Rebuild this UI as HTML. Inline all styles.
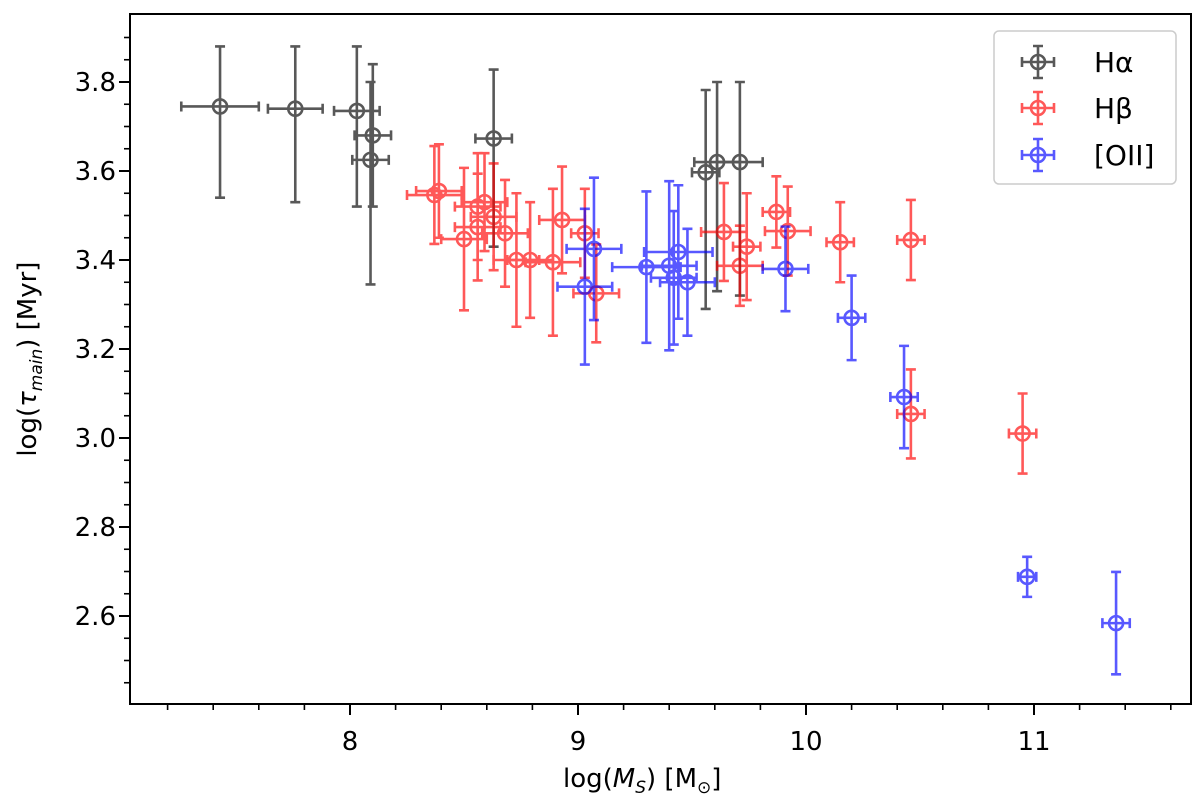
<!DOCTYPE html>
<html><head><meta charset="utf-8"><style>
body{margin:0;background:#fff;}
svg text{font-family:"DejaVu Sans","Liberation Sans",sans-serif;}
</style></head><body>
<svg id="c" width="1200" height="805" xmlns="http://www.w3.org/2000/svg"></svg>
<script>
const haX=[7.43,7.76,8.03,8.10,8.09,8.63,9.56,9.61,9.71];
const haY=[3.745,3.74,3.735,3.68,3.625,3.673,3.597,3.62,3.62];
const haXerr=[0.17,0.12,0.1,0.08,0.08,0.08,0.06,0.1,0.1];
const haYerrUp=[0.135,0.14,0.145,0.16,0.175,0.155,0.185,0.18,0.18];
const haYerrDown=[0.205,0.21,0.215,0.16,0.28,0.243,0.307,0.29,0.30];
const hbX=[8.37,8.39,8.56,8.59,8.63,8.56,8.50,8.68,8.73,8.79,8.89,8.93,9.03,9.08,9.64,9.74,9.71,9.87,9.92,10.15,10.46,10.46,10.95];
const hbY=[3.546,3.555,3.52,3.53,3.497,3.474,3.447,3.46,3.40,3.40,3.395,3.49,3.46,3.325,3.463,3.43,3.387,3.508,3.465,3.44,3.445,3.054,3.01];
const hbXerr=[0.12,0.1,0.1,0.1,0.1,0.1,0.1,0.1,0.1,0.1,0.12,0.1,0.06,0.1,0.1,0.06,0.1,0.06,0.1,0.06,0.06,0.06,0.06];
const hbYerr=[0.11,0.105,0.12,0.11,0.12,0.12,0.16,0.12,0.15,0.13,0.165,0.12,0.1,0.11,0.11,0.12,0.09,0.08,0.1,0.09,0.09,0.1,0.09];
const oX=[9.07,9.03,9.30,9.40,9.44,9.42,9.48,9.91,10.20,10.43,10.97,11.36];
const oY=[3.425,3.34,3.384,3.387,3.418,3.36,3.35,3.38,3.27,3.092,2.688,2.584];
const oXerr=[0.12,0.12,0.15,0.12,0.15,0.1,0.12,0.1,0.06,0.06,0.04,0.06];
const oYerr=[0.16,0.175,0.17,0.19,0.15,0.15,0.12,0.095,0.095,0.115,0.045,0.115];
const xTicks=[8,9,10,11];
const yTicks=[2.6,2.8,3.0,3.2,3.4,3.6,3.8];

const L=130,R=1191,T=14,B=704;
const xs=v=>122+228*(v-7);
const ys=v=>82+445*(3.8-v);
const svg=document.getElementById('c');
const NS='http://www.w3.org/2000/svg';
function mk(tag,at,parent){const e=document.createElementNS(NS,tag);for(const k in at)e.setAttribute(k,at[k]);(parent||svg).appendChild(e);return e;}

for(let v=7.2;v<11.65;v+=0.2){const x=xs(v);const maj=xTicks.some(t=>Math.abs(t-v)<1e-6);
 const t=mk('line',{x1:x,x2:x,y1:B,y2:B+(maj?11:6),stroke:'#000','stroke-width':maj?2:1.6});
 }
xTicks.forEach(v=>{const t=mk('text',{x:xs(v),y:B+46,'font-size':26,'text-anchor':'middle'});t.textContent=v;
 });
for(let v=2.45;v<3.92;v+=0.05){const y=ys(v);if(y<T||y>B)continue;const maj=yTicks.some(t=>Math.abs(t-v)<1e-6);
 const t=mk('line',{x1:L,x2:L-(maj?11:6),y1:y,y2:y,stroke:'#000','stroke-width':maj?2:1.6});
 }
yTicks.forEach(v=>{const t=mk('text',{x:L-14,y:ys(v)+9,'font-size':26,'text-anchor':'end'});t.textContent=v.toFixed(1);
 });

function series(X,Y,XE,YU,YD,col,name){
 const g=mk('g',{opacity:0.65,stroke:col,fill:'none','stroke-width':2.6});
 
 X.forEach((xv,i)=>{const x=xs(xv),y=ys(Y[i]),x1=xs(xv-XE[i]),x2=xs(xv+XE[i]),y1=ys(Y[i]+YU[i]),y2=ys(Y[i]-YD[i]);
  const p=mk('path',{d:`M${x1},${y}H${x2}M${x},${y1}V${y2}M${x1},${y-5}v10M${x2},${y-5}v10M${x-5},${y1}h10M${x-5},${y2}h10`},g);
  
  const c=mk('circle',{cx:x,cy:y,r:7},g);
  });
}
series(haX,haY,haXerr,haYerrUp,haYerrDown,'#000','h-alpha');
series(hbX,hbY,hbXerr,hbYerr,hbYerr,'#f00','h-beta');
series(oX,oY,oXerr,oYerr,oYerr,'#00f','oii');

const fr=mk('rect',{x:L,y:T,width:R-L,height:B-T,fill:'none',stroke:'#000','stroke-width':2});


const lg=mk('g',{});
mk('rect',{x:994,y:31,width:182,height:153,rx:5,fill:'#fff',stroke:'#ccc','stroke-width':1.5},lg);
[['#000','Hα',62,'h-alpha'],['#f00','Hβ',108,'h-beta'],['#00f','[OII]',155,'oii']].forEach(([c,t,y,n])=>{
 const g=mk('g',{opacity:0.65,stroke:c,fill:'none','stroke-width':2.6},lg);
 
 const x=1038;
 mk('path',{d:`M${x-16},${y}H${x+16}M${x},${y-16}V${y+16}M${x-16},${y-5}v10M${x+16},${y-5}v10M${x-5},${y-16}h10M${x-5},${y+16}h10`},g);
 mk('circle',{cx:x,cy:y,r:7},g);
 const tx=mk('text',{x:1094,y:y+10,'font-size':28},lg);tx.textContent=t;
 
});
</script>
<div style="position:absolute;left:0;top:0;width:1200px;height:805px;pointer-events:none">
<div style="position:absolute;left:563px;top:764px;font:26px 'DejaVu Sans','Liberation Sans',sans-serif;white-space:nowrap;">log(<i>M<sub style="font-size:17px">S</sub></i>) [M<sub style="font-size:17px">⊙</sub>]</div>
<div style="position:absolute;left:-80px;top:342px;width:220px;text-align:center;transform:rotate(-90deg);font:26px 'DejaVu Sans','Liberation Sans',sans-serif;white-space:nowrap;">log(<i>τ<sub style="font-size:17px">main</sub></i>) [Myr]</div>
</div>
</body></html>
